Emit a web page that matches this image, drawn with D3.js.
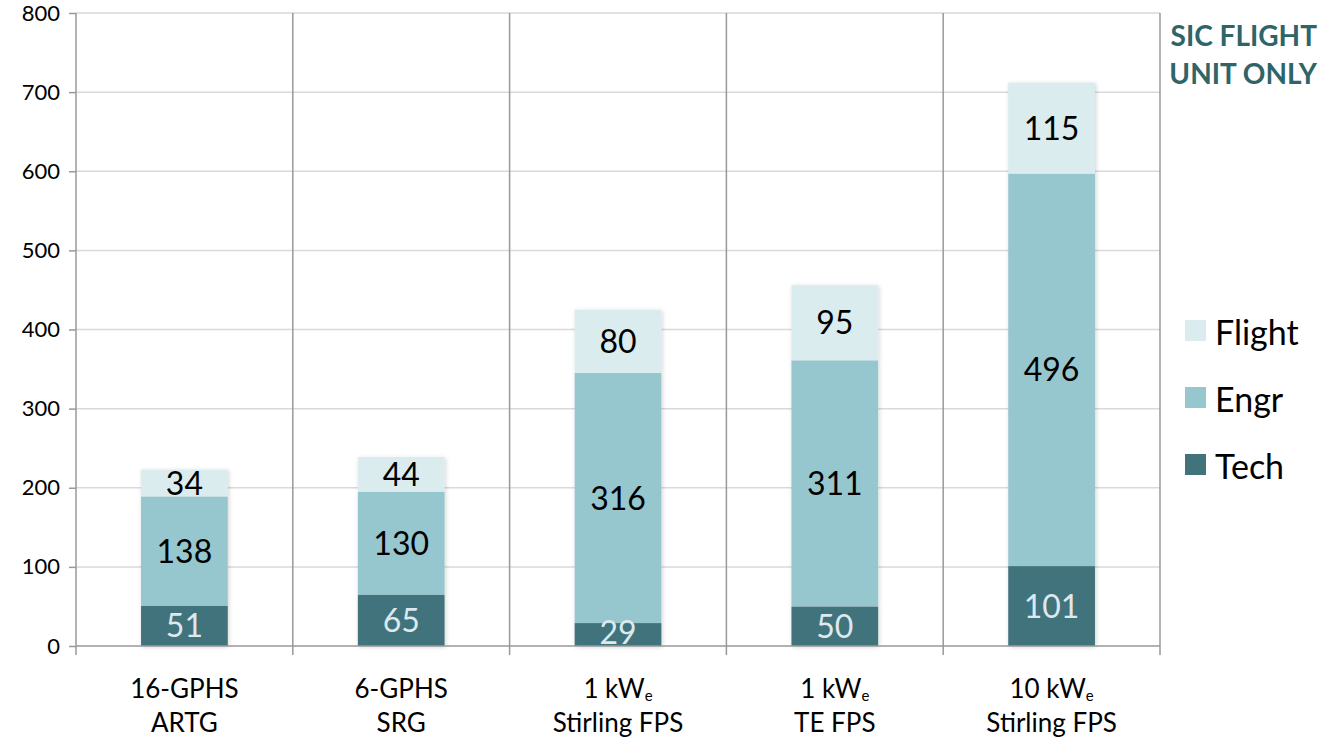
<!DOCTYPE html>
<html>
<head>
<meta charset="utf-8">
<script src="https://cdn.jsdelivr.net/npm/d3@7"></script>
<style>
  body { margin: 0; background: #fff; }
  text { font-family: Lato, "Open Sans", sans-serif; }
</style>
</head>
<body>
<div id="chart"></div>
<script>
// data
const categories = ["16-GPHS ARTG", "6-GPHS SRG", "1 kWe Stirling FPS", "1 kWe TE FPS", "10 kWe Stirling FPS"];
const labelLine1 = [["16-GPHS", ""], ["6-GPHS", ""], ["1 kW", "e"], ["1 kW", "e"], ["10 kW", "e"]];
const labelLine2 = ["ARTG", "SRG", "Stirling FPS", "TE FPS", "Stirling FPS"];
const tech = [51, 65, 29, 50, 101];
const engr = [138, 130, 316, 311, 496];
const flight = [34, 44, 80, 95, 115];
const seriesNames = ["Tech", "Engr", "Flight"];
const yTicks = [0, 100, 200, 300, 400, 500, 600, 700, 800];

const colors = {Tech: "#41737b", Engr: "#96c6ce", Flight: "#dbecef"};
const labelColors = {Tech: "#dde9ee", Engr: "#000", Flight: "#000"};

const W = 1329, H = 738;
const margin = {top: 13, right: 169, bottom: 92, left: 76};
const width = W - margin.left - margin.right,
      height = H - margin.top - margin.bottom;

const svg = d3.select("#chart").append("svg")
  .attr("width", W).attr("height", H);

const defs = svg.append("defs");
const f = defs.append("filter").attr("id", "shadow")
  .attr("x", "-10%").attr("y", "-10%").attr("width", "130%").attr("height", "130%");
f.append("feDropShadow").attr("dx", 1).attr("dy", 1).attr("stdDeviation", 2)
  .attr("flood-color", "#000").attr("flood-opacity", 0.18);

const g = svg.append("g").attr("transform", `translate(${margin.left},${margin.top})`);

const x = d3.scaleBand().domain(categories).range([0, width]).paddingInner(0).paddingOuter(0);
const y = d3.scaleLinear().domain([0, 800]).range([height, 0]);

// horizontal gridlines
g.append("g").selectAll("line").data(yTicks.slice(1)).join("line")
  .attr("x1", 0).attr("x2", width)
  .attr("y1", d => y(d)).attr("y2", d => y(d))
  .attr("stroke", "#d9d9d9").attr("stroke-width", 1.5);

// category separators
const bounds = categories.map(c => x(c) + x.bandwidth());
g.append("g").selectAll("line").data(bounds).join("line")
  .attr("x1", d => d).attr("x2", d => d)
  .attr("y1", 0).attr("y2", height + 9)
  .attr("stroke", "#999").attr("stroke-width", 1.5);

// stacked bars
const rows = categories.map((c, i) => ({cat: c, Tech: tech[i], Engr: engr[i], Flight: flight[i]}));
const stack = d3.stack().keys(seriesNames)(rows);
const barW = x.bandwidth() * 0.4;

const barG = g.append("g").attr("filter", "url(#shadow)");
stack.forEach(layer => {
  barG.selectAll(null).data(layer).join("rect")
    .attr("x", d => x(d.data.cat) + (x.bandwidth() - barW) / 2)
    .attr("width", barW)
    .attr("y", d => y(d[1]))
    .attr("height", d => y(d[0]) - y(d[1]))
    .attr("fill", colors[layer.key]);
});

stack.forEach(layer => {
  g.append("g").selectAll("text").data(layer).join("text")
    .attr("x", d => x(d.data.cat) + x.bandwidth() / 2)
    .attr("y", d => Math.min((y(d[0]) + y(d[1])) / 2, height - 14))
    .attr("dy", "0.36em")
    .attr("text-anchor", "middle")
    .attr("font-size", 32)
    .attr("fill", labelColors[layer.key])
    .text(d => d.data[layer.key]);
});

// y axis
const yAxis = g.append("g")
  .call(d3.axisLeft(y).tickValues(yTicks).tickSize(7).tickPadding(9).tickSizeOuter(0));
yAxis.select(".domain").remove();
yAxis.selectAll(".tick line").attr("stroke", "#999").attr("stroke-width", 1.5);
yAxis.selectAll(".tick text").attr("font-size", 22).attr("fill", "#000")
  .style("font-family", "Lato, sans-serif");
g.append("line").attr("x1", 0).attr("x2", 0).attr("y1", 0).attr("y2", height + 9)
  .attr("stroke", "#999").attr("stroke-width", 1.5);
g.append("line").attr("x1", 0).attr("x2", width).attr("y1", height).attr("y2", height)
  .attr("stroke", "#999").attr("stroke-width", 1.5);

// x labels
const xl = g.append("g").selectAll("g").data(categories).join("g")
  .attr("transform", d => `translate(${x(d) + x.bandwidth() / 2},${height})`);
xl.append("text")
  .attr("y", 52).attr("text-anchor", "middle").attr("font-size", 26).attr("fill", "#000")
  .each(function(d, i) {
    const t = d3.select(this);
    t.append("tspan").text(labelLine1[i][0]);
    if (labelLine1[i][1]) {
      t.append("tspan").attr("font-size", 15).attr("dy", 3).text(labelLine1[i][1]);
    }
  });
xl.append("text")
  .attr("y", 86).attr("text-anchor", "middle").attr("font-size", 26).attr("fill", "#000")
  .text((d, i) => labelLine2[i]);

// note
const note = svg.append("text").attr("text-anchor", "end")
  .attr("font-size", 28).attr("font-weight", "bold").attr("fill", "#2f6468");
note.append("tspan").attr("x", 1317).attr("y", 46).text("SIC FLIGHT");
note.append("tspan").attr("x", 1317).attr("y", 84).text("UNIT ONLY");

// legend
const legend = svg.append("g").attr("transform", "translate(1185,320)");
const legendOrder = ["Flight", "Engr", "Tech"];
legendOrder.forEach((k, i) => {
  const row = legend.append("g").attr("transform", `translate(0,${i * 67})`);
  row.append("rect").attr("width", 21).attr("height", 21).attr("fill", colors[k]);
  row.append("text").attr("x", 30).attr("y", 13).attr("dy", "0.36em")
    .attr("font-size", 34).attr("fill", "#000").text(k);
});
</script>
</body>
</html>
